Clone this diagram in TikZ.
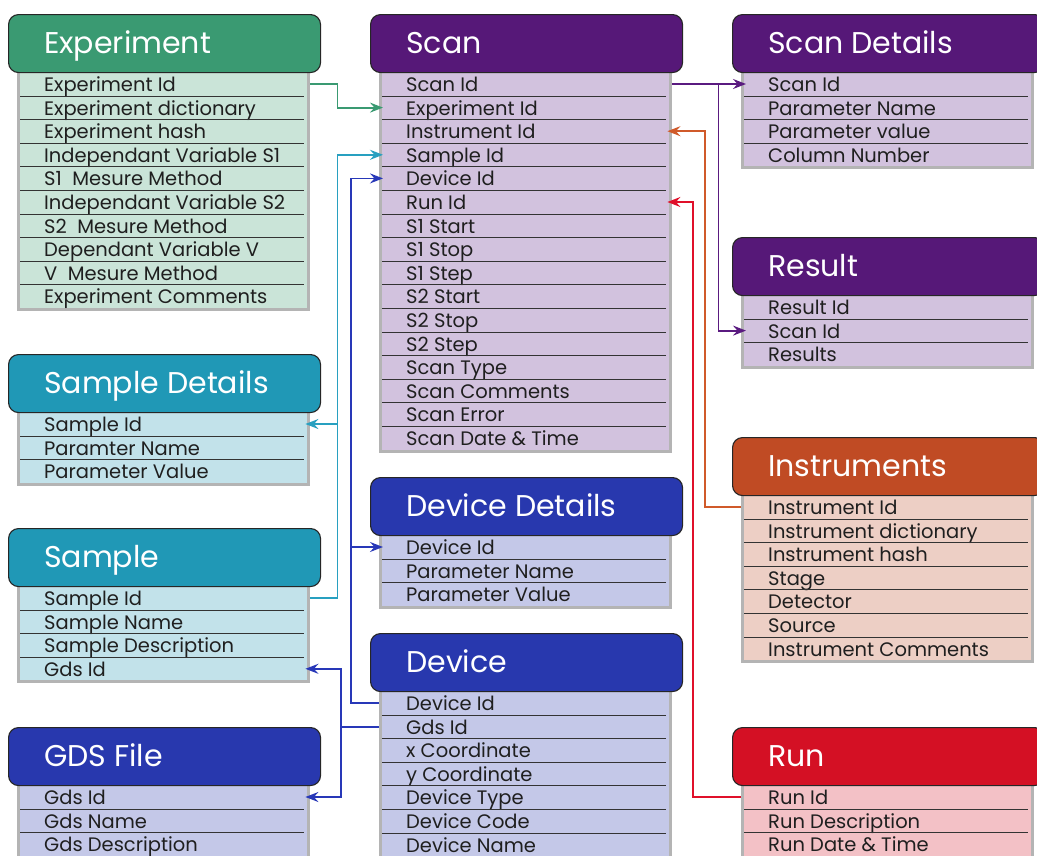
\documentclass[tikz,border=0pt]{standalone}
\usepackage{fontspec}
\setmainfont{Poppins}
\usetikzlibrary{arrows.meta}
\definecolor{expH}{HTML}{3A9A72}\definecolor{expB}{HTML}{CAE4D8}
\definecolor{scanH}{HTML}{561878}\definecolor{scanB}{HTML}{D2C2DE}
\definecolor{sampH}{HTML}{2098B6}\definecolor{sampB}{HTML}{C2E2EA}
\definecolor{devH}{HTML}{2838AE}\definecolor{devB}{HTML}{C4C8E8}
\definecolor{insH}{HTML}{C04B24}\definecolor{insB}{HTML}{EDCFC5}
\definecolor{runH}{HTML}{D41024}\definecolor{runB}{HTML}{F3C1C6}
\definecolor{edgegray}{HTML}{B4B4B4}
\definecolor{cGreen}{HTML}{3A9A72}\definecolor{cTeal}{HTML}{28A0C0}
\definecolor{cBlue}{HTML}{2838B8}\definecolor{cPurple}{HTML}{5A1A80}
\definecolor{cOrange}{HTML}{D05A2A}\definecolor{cRed}{HTML}{E0102A}
\tikzset{
 hdr/.style={draw=black!85, line width=1.1pt, rounded corners=10pt, minimum width=312pt, minimum height=58pt, inner sep=0pt, anchor=north west},
 ttl/.style={text=white, font=\fontsize{30}{35}\selectfont, anchor=base west, inner sep=0pt},
 rowbox/.style={minimum width=293pt, minimum height=23.6pt, inner sep=0pt, anchor=north west},
 rowtxt/.style={font=\fontsize{19.5}{22}\selectfont, anchor=base west, inner sep=0pt, text=black!88},
 sepline/.style={draw=black!80, line width=0.9pt},
 bodyedge/.style={draw=edgegray, line width=3pt},
 link/.style={line width=1.8pt},
 conn/.style={line width=1.8pt, -{Stealth[length=13pt,width=10pt,inset=4.5pt]}},
}
\newcommand\dbtable[7]{%
 \fill[#5B] (#2+9,#3+50) rectangle (#2+302,{#3+58+#6*23.6});
 \draw[bodyedge] (#2+10.5,#3+50) -- (#2+10.5,{#3+58+#6*23.6+1.5}) -- (#2+300.5,{#3+58+#6*23.6+1.5}) -- (#2+300.5,#3+50);
 \foreach \t [count=\i] in {#7} {%
   \node[rowbox] (#1-r\i) at (#2+9, {#3+58+(\i-1)*23.6}) {};
   \node[rowtxt] (#1-t\i) at ([xshift=27pt, yshift=-19.5pt]#1-r\i.north west) {\t};
   \ifnum\i<#6 \draw[sepline] ([xshift=3pt]#1-r\i.south west) -- ([xshift=-6pt]#1-r\i.south east);\fi
 }
 \node[hdr, fill=#5H] (#1-h) at (#2,#3) {};
 \node[ttl] (#1-title) at (#2+36,#3+39) {#4};
}
\begin{document}
\begin{tikzpicture}[x=1pt,y=-1pt]
\useasboundingbox (0,0) rectangle (1037,855);
\clip (0,0) rectangle (1037,855);
\dbtable{exp}{8}{14}{Experiment}{exp}{10}{Experiment Id,Experiment dictionary,Experiment hash,Independant Variable S1,S1~~Mesure Method,Independant Variable S2,S2~~Mesure Method,Dependant Variable V,V~~Mesure Method,Experiment Comments}
\dbtable{sd}{8}{354}{Sample Details}{samp}{3}{Sample Id,Paramter Name,Parameter Value}
\dbtable{samp}{8}{528}{Sample}{samp}{4}{Sample Id,Sample Name,Sample Description,Gds Id}
\dbtable{gds}{8}{727}{GDS File}{dev}{3}{Gds Id,Gds Name,Gds Description}
\dbtable{scan}{370}{14}{Scan}{scan}{16}{Scan Id,Experiment Id,Instrument Id,Sample Id,Device Id,Run Id,S1 Start,S1 Stop,S1 Step,S2 Start,S2 Stop,S2 Step,Scan Type,Scan Comments,Scan Error,Scan Date \& Time}
\dbtable{dd}{370}{477}{Device Details}{dev}{3}{Device Id,Parameter Name,Parameter Value}
\dbtable{dev}{370}{633}{Device}{dev}{7}{Device Id,Gds Id,x Coordinate,y Coordinate,Device Type,Device Code,Device Name}
\dbtable{sdet}{732}{14}{Scan Details}{scan}{4}{Scan Id,Parameter Name,Parameter value,Column Number}
\dbtable{res}{732}{237}{Result}{scan}{3}{Result Id,Scan Id,Results}
\dbtable{ins}{732}{437}{Instruments}{ins}{7}{Instrument Id,Instrument dictionary,Instrument hash,Stage,Detector,Source,Instrument Comments}
\dbtable{run}{732}{727}{Run}{run}{3}{Run Id,Run Description,Run Date \& Time}
% connectors
\draw[conn, cGreen] (exp-r1.east) -- ++(27,0) |- ([xshift=4pt]scan-r2.west);
\draw[conn, cTeal] (samp-r1.east) -- ++(27,0) coordinate (tv) |- ([xshift=4pt]scan-r4.west);
\draw[conn, cTeal] (tv |- sd-r1.east) -- ([xshift=-5pt]sd-r1.east);
\draw[conn, cBlue] (dev-r1.west) -- ++(-28,0) coordinate (bv) |- ([xshift=4pt]scan-r5.west);
\draw[conn, cBlue] (bv |- dd-r1.west) -- ([xshift=4pt]dd-r1.west);
\draw[link, cBlue] (dev-r2.west) -- ++(-38,0) coordinate (gv);
\draw[conn, cBlue] (gv) |- ([xshift=-5pt]samp-r4.east);
\draw[conn, cBlue] (gv) |- ([xshift=-5pt]gds-r1.east);
\draw[conn, cPurple] (scan-r1.east) -- ([xshift=5pt]sdet-r1.west);
\draw[conn, cPurple] ([xshift=46pt]scan-r1.east) |- ([xshift=5pt]res-r2.west);
\draw[conn, cOrange] (ins-r1.west) -- ++(-36,0) |- ([xshift=-5pt]scan-r3.east);
\draw[conn, cRed] (run-r1.west) -- ++(-48,0) |- ([xshift=-5pt]scan-r6.east);
\end{tikzpicture}
\end{document}
